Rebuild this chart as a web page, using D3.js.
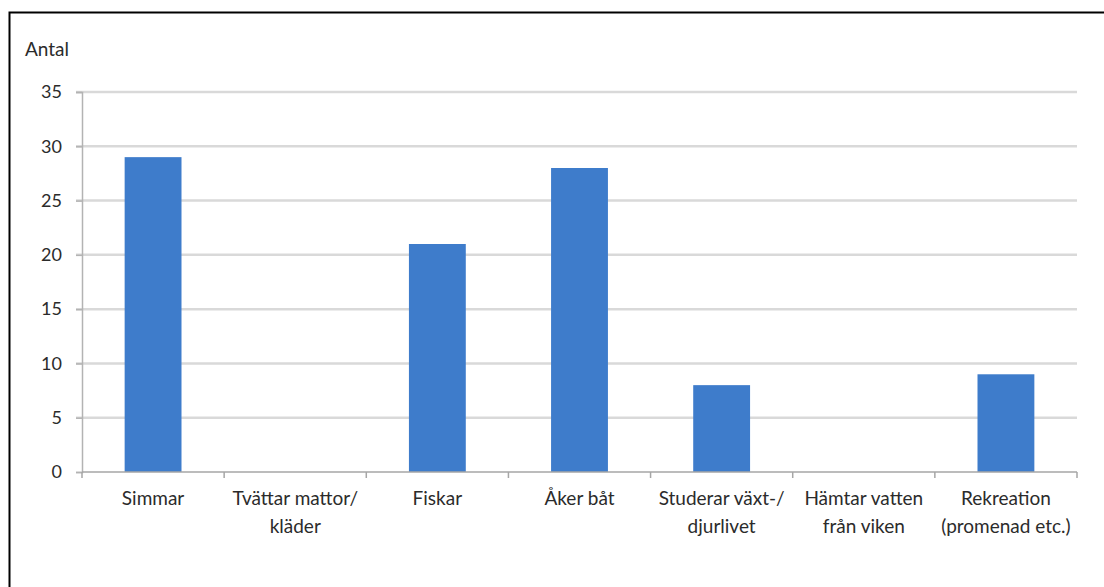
<!DOCTYPE html>
<html><head><meta charset="utf-8">
<script src="https://cdn.jsdelivr.net/npm/d3@7"></script>
<style>
html,body{margin:0;padding:0;background:#fff;}
svg{display:block;}
text{font-family:Lato, "Liberation Sans", sans-serif;fill:#2b2b2b;}
</style></head>
<body>
<script>
const categories = [["Simmar"],["Tvättar mattor/","kläder"],["Fiskar"],["Åker båt"],["Studerar växt-/","djurlivet"],["Hämtar vatten","från viken"],["Rekreation","(promenad etc.)"]];
const values = [29, 0, 21, 28, 8, 0, 9];
const yTicks = [0,5,10,15,20,25,30,35];
const yTitle = "Antal";

(function(){
const W = 1104, H = 587;
const svg = d3.select("body").append("svg").attr("width", W).attr("height", H);

// frame
svg.append("path").attr("d", `M9.5,${H} L9.5,12.5 L${W},12.5`).attr("fill","none").attr("stroke","#000").attr("stroke-width",2);

const mL = 82, mR = 1077, mT = 92, mB = 472;
const x = d3.scaleBand().domain(d3.range(categories.length)).range([mL, mR]).paddingInner(0.6).paddingOuter(0.3);
const y = d3.scaleLinear().domain([0, 35]).range([mB, mT]);

// gridlines
svg.append("g").selectAll("line").data(yTicks.filter(d=>d>0)).join("line")
  .attr("x1", mL-6).attr("x2", mR).attr("y1", d=>y(d)).attr("y2", d=>y(d))
  .attr("stroke","#d9d9d9").attr("stroke-width",2.5);

// bars
svg.append("g").selectAll("rect").data(values).join("rect")
  .attr("x",(d,i)=>x(i)).attr("width",x.bandwidth())
  .attr("y",d=>y(d)).attr("height",d=>y(0)-y(d))
  .attr("fill","#3e7ccb");

// y axis
const yAxis = svg.append("g").attr("transform",`translate(${mL},0)`)
  .call(d3.axisLeft(y).tickValues(yTicks).tickSize(6).tickPadding(14));
yAxis.select(".domain").attr("stroke","#b3b3b3").attr("stroke-width",1.5);
yAxis.selectAll(".tick line").attr("stroke","#b3b3b3").attr("stroke-width",1.5);
yAxis.selectAll("text").style("font-size","18px").attr("fill","#2b2b2b");

// x axis
const step = (mR-mL)/categories.length;
const xAxis = svg.append("g").attr("transform",`translate(0,${mB})`);
xAxis.append("line").attr("x1",mL).attr("x2",mR).attr("stroke","#a6a6a6").attr("stroke-width",1.5);
xAxis.selectAll("line.tk").data(d3.range(categories.length+1)).join("line").attr("class","tk")
  .attr("x1",i=>mL+i*step).attr("x2",i=>mL+i*step).attr("y1",0).attr("y2",6)
  .attr("stroke","#a6a6a6").attr("stroke-width",1.5);

const lab = svg.append("g").selectAll("text").data(categories).join("text")
  .attr("text-anchor","middle").style("font-size","19px")
  .attr("transform",(d,i)=>`translate(${x(i)+x.bandwidth()/2},${mB+33})`);
lab.selectAll("tspan").data(d=>d).join("tspan").attr("x",0).attr("dy",(d,j)=>j===0?0:28).text(d=>d);

svg.append("text").attr("x",25).attr("y",56).style("font-size","19px").text(yTitle);
})();
</script>
</body></html>
